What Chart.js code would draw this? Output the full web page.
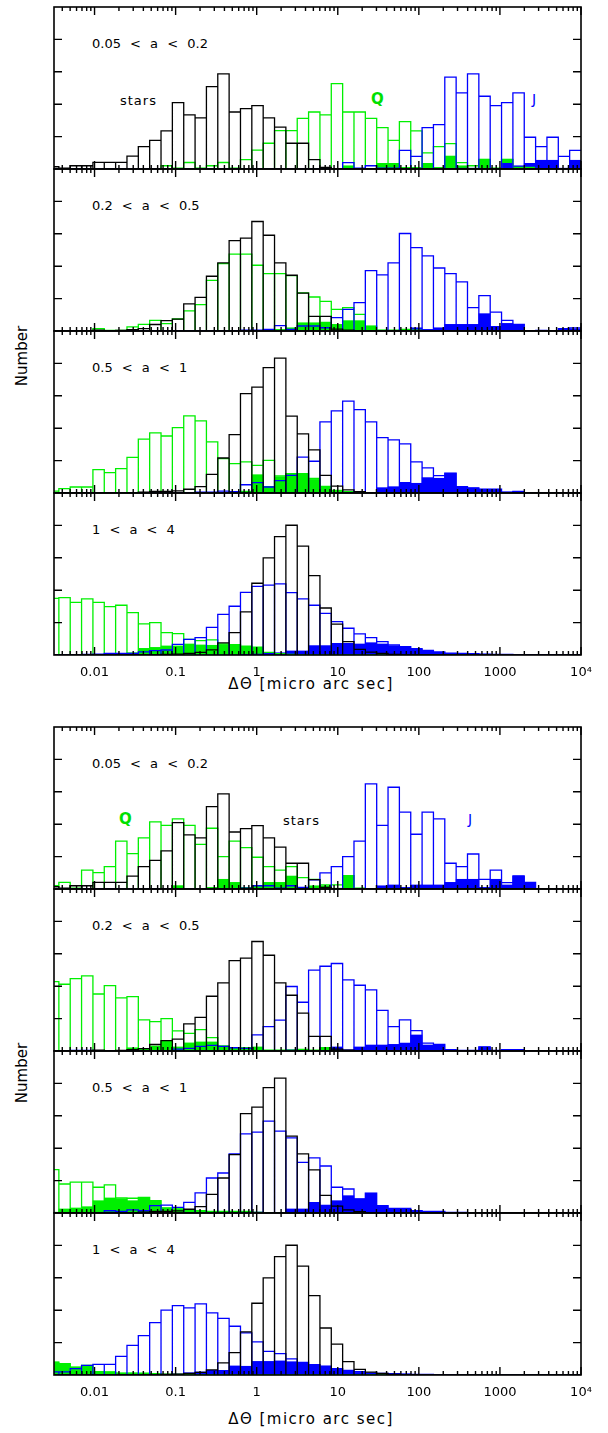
<!DOCTYPE html>
<html>
<head>
<meta charset="utf-8">
<script src="https://cdn.jsdelivr.net/npm/chart.js@4.4.1/dist/chart.umd.min.js"></script>
<style>
  body { margin: 0; background: #fff; width: 608px; height: 1433px; position: relative; overflow: hidden;
         font-family: "DejaVu Sans", "Liberation Sans", sans-serif; color: #000; }
  canvas { position: absolute; left: 0; }
  .lbl { position: absolute; white-space: pre; line-height: 1; transform: translateY(-50%); font-size: 13px; }
  .range { word-spacing: 5px; }
  .q { color: #00e000; font-weight: bold; font-size: 15px; }
  .j { color: #0000ff; font-size: 14px; }
  .stars { letter-spacing: 1px; }
  .ytitle { position: absolute; font-size: 15px; transform: translate(-50%, -50%) rotate(-90deg); white-space: pre; }
  .xtitle { position: absolute; font-size: 15px; letter-spacing: 1.5px; transform: translate(-50%, -50%); white-space: pre; }
</style>
</head>
<body>

<div class="lbl range" style="left:92px;top:42.5px">0.05 &lt; a &lt; 0.2</div>
<div class="lbl range" style="left:92px;top:204.5px">0.2 &lt; a &lt; 0.5</div>
<div class="lbl range" style="left:92px;top:366.5px">0.5 &lt; a &lt; 1</div>
<div class="lbl range" style="left:92px;top:528.5px">1 &lt; a &lt; 4</div>
<div class="lbl stars" style="left:120px;top:100px">stars</div>
<div class="lbl q" style="left:371px;top:99px">Q</div>
<div class="lbl j" style="left:532px;top:99px">J</div>
<div class="ytitle" style="left:22px;top:356px">Number</div>
<div class="xtitle" style="left:311px;top:684px">ΔΘ [micro arc sec]</div>

<div class="lbl range" style="left:92px;top:762.5px">0.05 &lt; a &lt; 0.2</div>
<div class="lbl range" style="left:92px;top:924.5px">0.2 &lt; a &lt; 0.5</div>
<div class="lbl range" style="left:92px;top:1086.5px">0.5 &lt; a &lt; 1</div>
<div class="lbl range" style="left:92px;top:1248.5px">1 &lt; a &lt; 4</div>
<div class="lbl q" style="left:119px;top:819px">Q</div>
<div class="lbl stars" style="left:283px;top:820px">stars</div>
<div class="lbl j" style="left:468px;top:819px">J</div>
<div class="ytitle" style="left:22px;top:1073px">Number</div>
<div class="xtitle" style="left:311px;top:1419px">ΔΘ [micro arc sec]</div>

<script>
// histogram bins: equal width in log10(ΔΘ)
const binLo = -2.58;
const binStep = 0.14;
const nBins = 47;

const xMin = Math.pow(10, -2.5);
const xMax = 1e4;
const tickValues = [0.01, 0.1, 1, 10, 100, 1000, 10000];
const tickLabels = ['0.01', '0.1', '1', '10', '100', '1000', '10⁴'];
const yTicks = [20, 40, 60, 80];

// stars (same in both sets of panels), one array per a-range
const stars1 = [1.4, 0.6, 2.0, 2.0, 4.1, 4.1, 4.1, 8.0, 13.8, 17.7,
  23.5, 41.0, 33.4, 31.5, 50.9, 58.7, 35.2, 37.3, 39.1, 31.5,
  25.8, 15.9, 15.9, 5.8, 1.0, 0, 0, 0, 0, 0,
  0, 0, 0, 0, 0, 0, 0, 0, 0, 0,
  0, 0, 0, 0, 0, 0, 0];
const stars2 = [0, 0, 0, 0, 0.5, 0, 0.4, 0.8, 1.5, 4.0,
  6.4, 7.3, 16.7, 20.8, 33.8, 42.0, 55.8, 57.3, 67.6, 59.1,
  42.0, 34.4, 23.4, 9.0, 9.0, 1.2, 0.5, 0, 0, 0,
  0, 0, 0, 0, 0, 0, 0, 0, 0, 0,
  0, 0, 0, 0, 0, 0, 0];
const stars3 = [0, 0, 0, 0, 0, 0, 0, 0, 0.6, 1.0,
  1.0, 1.3, 2.3, 3.9, 11.5, 21.6, 36.0, 61.3, 65.3, 77.4,
  83.3, 47.5, 36.5, 26.6, 10.9, 4.3, 1.9, 0.8, 0, 0,
  0, 0, 0, 0, 0, 0, 0, 0, 0, 0,
  0, 0, 0, 0, 0, 0, 0];
const stars4 = [0, 0, 0, 0, 0, 0, 0, 0, 0, 0,
  0.4, 0.6, 1.0, 1.6, 3.2, 7.5, 13.8, 26.6, 44.3, 60.0,
  73.1, 80.1, 67.2, 49.0, 29.0, 19.0, 8.2, 3.5, 1.8, 1.0,
  0.4, 0, 0, 0, 0, 0, 0, 0, 0, 0,
  0, 0, 0, 0, 0, 0, 0];

// upper set: Q (green) and J (blue), open = all, filled = subsample
const topQ1 = [0, 0, 0, 0, 0, 0, 0, 0, 0, 0,
  2.0, 0.5, 4.0, 0.5, 2.0, 4.0, 0.5, 5.8, 11.7, 15.9,
  23.7, 23.7, 31.3, 35.2, 33.4, 52.7, 35.2, 35.2, 31.3, 25.5,
  17.7, 29.3, 23.5, 9.9, 13.8, 15.7, 3.9, 2.0, 6.0, 0.5,
  6.0, 1.0, 1.0, 0, 0, 0, 0];
const topQfill1 = [0, 0, 0, 0, 0, 0, 0, 0, 0, 0,
  0, 0, 0, 0, 0, 0, 0, 0, 0, 0,
  0, 0, 0, 0, 0, 0, 2.0, 0, 0, 3.5,
  3.5, 1.0, 1.0, 3.5, 1.0, 8.0, 2.0, 0.5, 6.0, 0,
  6.0, 0, 0, 0, 0, 0, 0];
const topJ1 = [0, 0, 0, 0, 0, 0, 0, 0, 0, 0,
  0, 0, 0, 0, 0, 0, 0, 0, 0, 0,
  0, 0, 0, 0, 0, 0, 3.9, 0.5, 2.0, 0.5,
  0.5, 11.5, 7.8, 25.5, 27.4, 56.7, 47.0, 58.7, 44.9, 39.1,
  41.0, 47.0, 19.6, 13.8, 19.6, 7.8, 11.5];
const topJfill1 = [0, 0, 0, 0, 0, 0, 0, 0, 0, 0,
  0, 0, 0, 0, 0, 0, 0, 0, 0, 0,
  0, 0, 0, 0, 0, 0, 0, 0, 0, 0,
  0, 0, 0, 0, 0, 0, 0.5, 0.5, 0, 0,
  3.5, 2.0, 3.5, 5.4, 5.4, 0.5, 5.4];

const topQ2 = [0, 0, 0, 0, 1.4, 0.4, 0.4, 2.5, 4.1, 6.6,
  4.5, 7.4, 12.4, 16.3, 31.3, 41.6, 47.4, 47.4, 40.6, 35.4,
  35.4, 34.2, 23.5, 21.0, 18.3, 13.4, 14.4, 10.3, 3.0, 0.5,
  0.5, 1.0, 0.5, 0, 0, 0, 0, 0, 0, 0,
  0, 0, 0, 0, 0, 0, 0];
const topQfill2 = [0, 0, 0, 0, 0, 0, 0, 0, 0, 0,
  0, 0, 0, 0, 0, 0, 0, 0, 0, 0.5,
  1.0, 2.0, 5.1, 5.1, 5.5, 4.1, 6.4, 6.4, 3.0, 0.5,
  0, 1.0, 0, 0, 0, 0, 0, 0, 0, 0,
  0, 0, 0, 0, 0, 0, 0];
const topJ2 = [0, 0, 0, 0, 0, 0, 0, 0, 0, 0,
  0, 0, 0, 0, 0, 0, 0, 0.5, 0.5, 1.0,
  3.3, 1.0, 3.1, 3.1, 2.0, 8.2, 13.4, 17.5, 37.3, 34.6,
  42.0, 60.2, 51.5, 46.4, 38.9, 35.4, 30.3, 14.4, 21.8, 11.7,
  6.6, 4.1, 0, 0.4, 0, 1.4, 1.9];
const topJfill2 = [0, 0, 0, 0, 0, 0, 0, 0, 0, 0,
  0, 0, 0, 0, 0, 0, 0, 0, 0, 0,
  0, 0, 0, 0, 0, 0, 0, 0, 0, 0,
  0, 0.8, 2.0, 1.0, 2.0, 4.1, 4.1, 4.1, 10.7, 2.9,
  4.7, 4.1, 0, 0, 0, 1.4, 1.4];

const topQ3 = [1.2, 2.7, 3.7, 3.7, 14.4, 12.6, 15.0, 22.0, 33.2, 37.1,
  35.2, 40.4, 47.6, 44.5, 31.5, 21.2, 18.1, 19.2, 17.1, 20.2,
  10.5, 12.0, 12.0, 9.0, 4.0, 1.6, 0.8, 0, 0, 0,
  0, 0, 0, 0, 0, 0, 0, 0, 0, 0,
  0, 0, 0, 0, 0, 0, 0];
const topQfill3 = [0, 0, 0, 0, 0, 0, 0, 0, 0, 0,
  0, 0, 0, 0, 0, 0, 0.5, 1.2, 11.3, 4.1,
  9.9, 11.9, 12.0, 8.4, 3.7, 1.6, 0.5, 0, 0, 0,
  0, 0, 0, 0, 0, 0, 0, 0, 0, 0,
  0, 0, 0, 0, 0, 0, 0];
const topJ3 = [0, 0, 0, 0, 0, 0, 0, 0, 0, 0,
  0, 0, 0, 0.5, 0.6, 1.2, 0.8, 5.1, 6.4, 3.7,
  7.6, 10.9, 22.2, 19.6, 43.9, 50.7, 56.7, 51.5, 43.9, 34.2,
  32.8, 30.3, 19.2, 15.5, 10.7, 12.2, 3.9, 3.1, 2.3, 2.3,
  0.6, 1.0, 0, 0, 0, 0, 0];
const topJfill3 = [0, 0, 0, 0, 0, 0, 0, 0, 0, 0,
  0, 0, 0, 0, 0, 0, 0, 0, 0, 0,
  0, 0, 0, 0, 0, 0, 0.3, 0.3, 0.3, 3.3,
  3.9, 6.6, 6.0, 9.5, 9.1, 12.2, 3.9, 3.1, 2.3, 2.3,
  0.6, 1.0, 0, 0, 0, 0, 0];

const topQ4 = [35.0, 35.4, 32.5, 34.6, 32.5, 29.9, 30.7, 26.2, 19.2, 20.0,
  13.8, 13.2, 9.7, 8.9, 9.3, 6.8, 6.4, 5.4, 4.9, 1.6,
  0.8, 0.4, 0, 0, 0, 0, 0, 0, 0, 0,
  0, 0, 0, 0, 0, 0, 0, 0, 0, 0,
  0, 0, 0, 0, 0, 0, 0];
const topQfill4 = [0, 0, 0, 0, 0, 0, 0, 1.4, 4.1, 4.7,
  5.6, 5.6, 6.8, 6.2, 6.0, 6.4, 6.2, 5.2, 4.7, 1.4,
  0.6, 0, 0, 0, 0, 0, 0, 0, 0, 0,
  0, 0, 0, 0, 0, 0, 0, 0, 0, 0,
  0, 0, 0, 0, 0, 0, 0];
const topJ4 = [0, 0, 0, 0.4, 0.6, 1.0, 1.0, 1.0, 1.9, 2.7,
  3.1, 6.6, 9.7, 10.7, 17.1, 25.1, 30.1, 38.7, 42.4, 43.1,
  43.9, 38.5, 34.6, 30.7, 25.7, 20.6, 16.5, 13.0, 10.7, 8.2,
  6.2, 5.2, 3.9, 2.9, 1.9, 1.2, 1.0, 0.8, 0.6, 0.4,
  0.4, 0.2, 0.2, 0.2, 0.2, 0.2, 0.2];
const topJfill4 = [0, 0, 0, 0, 0, 0, 0, 0, 0, 0,
  0, 0, 0, 0, 0, 0, 0, 0.4, 0.6, 1.4,
  1.4, 2.5, 2.5, 5.8, 5.8, 7.2, 7.2, 6.8, 7.6, 6.8,
  5.8, 4.8, 3.5, 2.6, 1.7, 1.0, 0.8, 0.6, 0.5, 0.4,
  0.3, 0.2, 0.1, 0.1, 0.1, 0.1, 0.1];

// lower set
const botQ1 = [2.1, 4.1, 0.5, 11.7, 10.1, 13.8, 29.5, 21.8, 31.5, 41.4,
  39.3, 43.3, 39.3, 27.6, 37.5, 20.0, 29.5, 25.5, 19.6, 13.8,
  11.7, 13.8, 7.0, 6.0, 2.5, 2.5, 8.2, 0.5, 0, 0,
  0, 0, 0, 0, 0, 0, 0, 0, 0, 0,
  0, 0, 0, 0, 0, 0, 0];
const botQfill1 = [0, 0, 0, 0, 0, 0, 0, 0, 0, 0,
  0, 2.1, 0, 0, 1.0, 6.0, 4.1, 1.0, 2.0, 4.1,
  4.1, 8.0, 1.0, 2.0, 2.0, 0.5, 8.2, 0, 0, 0,
  0, 0, 0, 0, 0, 0, 0, 0, 0, 0,
  0, 0, 0, 0, 0, 0, 0];
const botJ1 = [0, 0, 0, 0, 0, 0, 0, 0, 0, 0,
  0, 0, 0, 0, 0, 0, 0, 0.5, 2.0, 2.0,
  0.5, 2.0, 1.0, 5.6, 9.9, 13.8, 20.0, 29.5, 64.9, 39.3,
  62.8, 47.4, 33.8, 47.4, 43.3, 15.9, 13.8, 21.6, 6.0, 11.7,
  3.9, 8.0, 4.1, 0, 0, 0, 0];
const botJfill1 = [0, 0, 0, 0, 0, 0, 0, 0, 0, 0,
  0, 0, 0, 0, 0, 0, 0, 0, 0, 0,
  0, 0, 0, 0, 0, 0, 0, 0, 0, 2.0,
  2.5, 1.0, 2.5, 2.5, 2.5, 4.1, 6.0, 6.0, 1.0, 6.0,
  2.5, 8.2, 4.1, 0, 0, 0, 0];

const botQ2 = [42.8, 41.2, 44.7, 46.4, 35.2, 40.4, 32.8, 33.6, 19.2, 18.1,
  20.0, 12.4, 10.9, 13.2, 8.2, 3.1, 2.0, 2.0, 2.0, 0.5,
  0.5, 0.5, 1.0, 0.5, 2.0, 0, 0, 0, 0, 0,
  0, 0, 0, 0, 0, 0, 0, 0, 0, 0,
  0, 0, 0, 0, 0, 0, 0];
const botQfill2 = [0, 0, 0, 0, 0, 0, 0, 2.0, 1.2, 3.1,
  6.0, 2.5, 5.0, 5.6, 5.6, 2.7, 2.0, 2.0, 2.5, 0,
  0, 0, 0.5, 0, 2.0, 0, 0, 0, 0, 0,
  0, 0, 0, 0, 0, 0, 0, 0, 0, 0,
  0, 0, 0, 0, 0, 0, 0];
const botJ2 = [0, 0, 0.4, 0.4, 0, 0, 0, 0, 0, 0,
  0, 1.2, 1.6, 2.9, 3.5, 2.9, 2.0, 1.6, 9.9, 15.0,
  19.0, 39.8, 30.1, 49.9, 52.3, 54.0, 43.9, 40.6, 37.7, 25.1,
  15.0, 19.2, 12.6, 4.9, 4.1, 0.8, 0.4, 0.4, 2.5, 0.4,
  0.8, 0.8, 0, 0, 0, 0, 0];
const botJfill2 = [0, 0, 0, 0, 0, 0, 0, 0, 0, 0,
  0, 0, 0, 0, 0, 0, 0, 0, 0, 0,
  0, 0.8, 0.8, 0, 0.4, 2.5, 0.8, 2.5, 3.7, 3.7,
  4.1, 4.9, 9.9, 3.7, 3.7, 0.4, 0, 0, 2.5, 0,
  0, 0, 0, 0, 0, 0, 0];

const botQ3 = [26.8, 17.9, 19.0, 19.0, 15.9, 17.3, 9.3, 9.1, 9.7, 7.6,
  3.1, 2.5, 1.9, 1.4, 1.0, 1.0, 1.0, 1.0, 0.4, 0,
  0, 0, 0, 0, 0, 0, 0, 0, 0, 0,
  0, 0, 0, 0, 0, 0, 0, 0, 0, 0,
  0, 0, 0, 0, 0, 0, 0];
const botQfill3 = [0.5, 2.5, 3.1, 3.9, 7.6, 9.3, 8.9, 7.6, 9.3, 7.6,
  3.1, 2.5, 1.9, 1.4, 1.0, 1.0, 1.0, 1.0, 0, 0,
  0, 0, 0, 0, 0, 0, 0, 0, 0, 0,
  0, 0, 0, 0, 0, 0, 0, 0, 0, 0,
  0, 0, 0, 0, 0, 0, 0];
const botJ3 = [0, 0, 0, 0, 0, 1.4, 1.0, 1.9, 1.4, 4.5,
  4.9, 3.5, 6.6, 12.4, 21.6, 24.7, 36.5, 48.8, 49.9, 56.7,
  50.5, 46.4, 31.3, 34.0, 29.0, 15.9, 14.8, 8.7, 12.2, 4.5,
  2.9, 2.9, 1.4, 1.0, 1.0, 0.4, 0.4, 0, 0, 0,
  0, 0, 0, 0, 0, 0, 0];
const botJfill3 = [0, 0, 0, 0, 0, 0, 0, 0, 0, 0,
  0, 0, 0, 0, 0, 0, 0, 0.6, 0.6, 0.4,
  0.4, 2.5, 2.5, 6.6, 4.9, 7.6, 10.7, 8.7, 12.2, 4.5,
  2.9, 2.9, 1.4, 1.0, 1.0, 0, 0, 0, 0, 0,
  0, 0, 0, 0, 0, 0, 0];

const botQ4 = [8.0, 7.0, 4.9, 6.0, 2.0, 1.9, 1.2, 1.2, 1.2, 0.8,
  0.6, 0.4, 0.2, 0, 0, 0, 0, 0, 0, 0,
  0, 0, 0, 0, 0, 0, 0, 0, 0, 0,
  0, 0, 0, 0, 0, 0, 0, 0, 0, 0,
  0, 0, 0, 0, 0, 0, 0];
const botQfill4 = [8.0, 7.0, 4.9, 6.0, 1.9, 1.9, 1.2, 1.2, 1.0, 0.6,
  0.4, 0, 0, 0, 0, 0, 0, 0, 0, 0,
  0, 0, 0, 0, 0, 0, 0, 0, 0, 0,
  0, 0, 0, 0, 0, 0, 0, 0, 0, 0,
  0, 0, 0, 0, 0, 0, 0];
const botJ4 = [1.9, 1.9, 3.9, 6.0, 6.6, 6.6, 11.5, 18.3, 24.3, 32.3,
  40.0, 42.8, 41.4, 43.9, 38.3, 35.0, 30.1, 26.0, 20.4, 14.6,
  13.2, 9.9, 7.8, 6.4, 5.4, 3.9, 2.9, 2.1, 1.2, 1.0,
  0.8, 0.6, 0.4, 0.4, 0.2, 0.2, 0, 0, 0, 0,
  0, 0, 0, 0, 0, 0, 0];
const botJfill4 = [0, 0, 0, 0, 0, 0, 0, 0, 0, 0,
  0, 0.6, 1.4, 1.9, 2.9, 2.9, 5.6, 5.4, 8.4, 8.4,
  8.7, 8.2, 7.8, 6.4, 5.4, 3.9, 2.5, 1.6, 1.2, 1.0,
  0.6, 0.6, 0.4, 0.4, 0.2, 0.2, 0, 0, 0, 0,
  0, 0, 0, 0, 0, 0, 0];

const GREEN = '#00f000';
const BLUE = '#0000ff';
const PANEL_H = 162;
const AXIS_H = 52;

const edges = [];
for (let i = 0; i <= nBins; i++) edges.push(Math.pow(10, binLo + binStep * i));
const centers = edges.slice(0, -1).map((e, i) => Math.sqrt(e * edges[i + 1]));

// each bin as its own box down to zero, like an outlined histogram
function outline(counts) {
  const pts = [];
  counts.forEach((c, i) => {
    pts.push({ x: edges[i], y: 0 }, { x: edges[i], y: c },
             { x: edges[i + 1], y: c }, { x: edges[i + 1], y: 0 });
  });
  return pts;
}

function filled(counts) {
  return counts.map((c, i) => ({ x: centers[i], y: c }));
}

// box frame with inward ticks on all four sides
const frameTicks = {
  id: 'frameTicks',
  afterDatasetsDraw(chart) {
    const { ctx, chartArea: a, scales: { x, y } } = chart;
    ctx.save();
    ctx.strokeStyle = '#000';
    ctx.lineWidth = 1.4;
    ctx.beginPath();
    for (let d = -3; d <= 4; d++) {
      for (let k = 1; k <= 9; k++) {
        const v = k * Math.pow(10, d);
        if (v < xMin * 0.999 || v > xMax * 1.001) continue;
        const px = x.getPixelForValue(v);
        const len = k === 1 ? 8 : 4;
        ctx.moveTo(px, a.bottom); ctx.lineTo(px, a.bottom - len);
        ctx.moveTo(px, a.top); ctx.lineTo(px, a.top + len);
      }
    }
    yTicks.forEach(v => {
      const py = y.getPixelForValue(v);
      ctx.moveTo(a.left, py); ctx.lineTo(a.left + 8, py);
      ctx.moveTo(a.right, py); ctx.lineTo(a.right - 8, py);
    });
    ctx.stroke();
    ctx.lineWidth = 1.6;
    ctx.strokeRect(a.left, a.top, a.right - a.left, a.bottom - a.top);
    ctx.restore();
  }
};

function drawPanel(p) {
  const withAxis = !!p.axis;
  const cv = document.createElement('canvas');
  cv.width = 608;
  cv.height = 8 + PANEL_H + (withAxis ? AXIS_H : 8);
  cv.style.top = (p.top - 8) + 'px';
  document.body.appendChild(cv);

  new Chart(cv, {
    type: 'bar',
    data: {
      datasets: [
        { type: 'bar', data: filled(p.qFill), backgroundColor: GREEN, order: 5 },
        { type: 'bar', data: filled(p.jFill), backgroundColor: BLUE, order: 4 },
        { type: 'line', data: outline(p.q), borderColor: GREEN, order: 3 },
        { type: 'line', data: outline(p.j), borderColor: BLUE, order: 2 },
        { type: 'line', data: outline(p.stars), borderColor: '#000', order: 1 }
      ]
    },
    options: {
      responsive: false,
      animation: false,
      events: [],
      layout: { padding: { left: 54, right: 27, top: 8, bottom: withAxis ? 0 : 8 } },
      plugins: { legend: { display: false }, tooltip: { enabled: false } },
      datasets: {
        bar: { grouped: false, barPercentage: 1, categoryPercentage: 1, borderWidth: 0 },
        line: { pointRadius: 0, borderWidth: 1.3, tension: 0, fill: false, borderJoinStyle: 'miter' }
      },
      scales: {
        x: {
          type: 'logarithmic',
          min: xMin,
          max: xMax,
          offset: false,
          display: withAxis,
          grid: { display: false, drawTicks: false, offset: false },
          border: { display: false },
          afterBuildTicks: ax => { ax.ticks = tickValues.map(v => ({ value: v })); },
          afterFit: ax => { ax.height = withAxis ? AXIS_H : 0; },
          ticks: {
            autoSkip: false,
            maxRotation: 0,
            padding: 10,
            color: '#000',
            font: { family: 'DejaVu Sans', size: 13 },
            callback: (v, i) => tickLabels[i]
          }
        },
        y: { min: 0, max: 100, display: false }
      }
    },
    plugins: [frameTicks]
  });
}

const panels = [
  { top: 7, stars: stars1, q: topQ1, qFill: topQfill1, j: topJ1, jFill: topJfill1 },
  { top: 169, stars: stars2, q: topQ2, qFill: topQfill2, j: topJ2, jFill: topJfill2 },
  { top: 331, stars: stars3, q: topQ3, qFill: topQfill3, j: topJ3, jFill: topJfill3 },
  { top: 493, stars: stars4, q: topQ4, qFill: topQfill4, j: topJ4, jFill: topJfill4, axis: true },
  { top: 727, stars: stars1, q: botQ1, qFill: botQfill1, j: botJ1, jFill: botJfill1 },
  { top: 889, stars: stars2, q: botQ2, qFill: botQfill2, j: botJ2, jFill: botJfill2 },
  { top: 1051, stars: stars3, q: botQ3, qFill: botQfill3, j: botJ3, jFill: botJfill3 },
  { top: 1213, stars: stars4, q: botQ4, qFill: botQfill4, j: botJ4, jFill: botJfill4, axis: true }
];

panels.forEach(drawPanel);
</script>
</body>
</html>
